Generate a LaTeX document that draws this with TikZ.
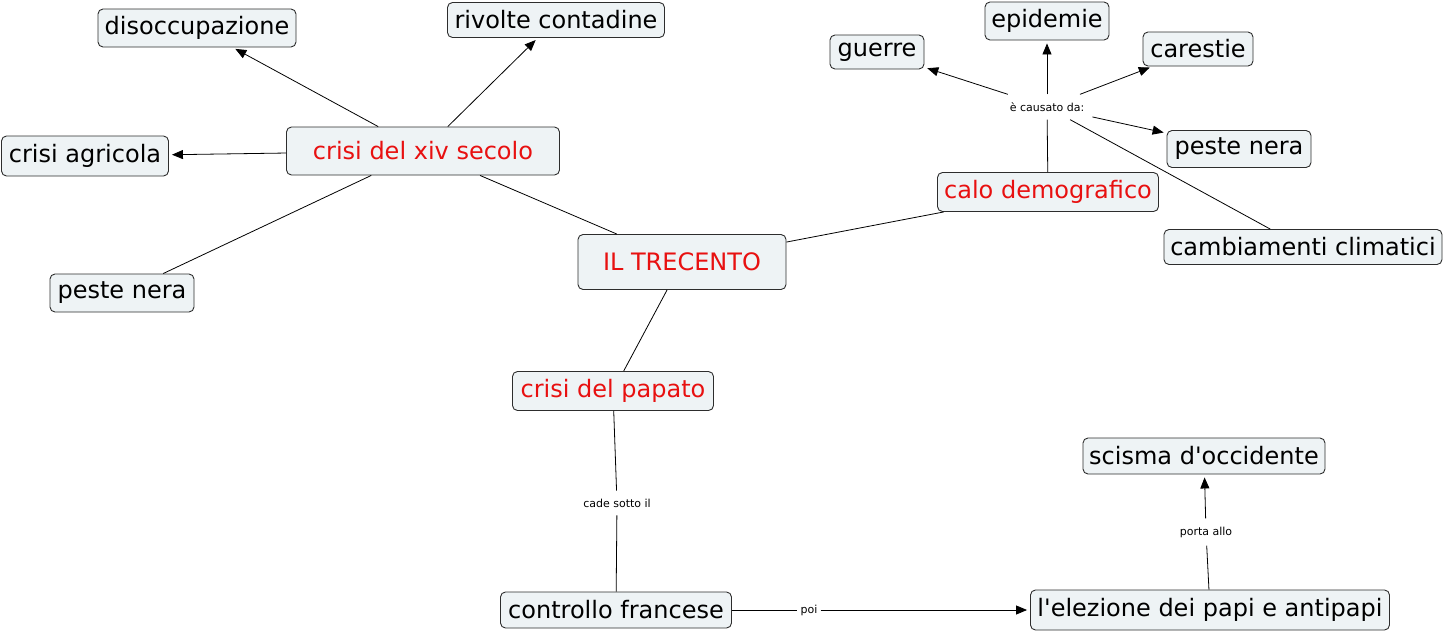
\documentclass[tikz,border=0pt]{standalone}
\usepackage{fontspec}
\setmainfont{DejaVu Sans}
\usetikzlibrary{arrows.meta}
\definecolor{cmapfill}{RGB}{238,243,245}
\definecolor{cmapred}{RGB}{232,16,16}
\definecolor{cmapline}{RGB}{45,45,45}

\begin{document}
\begin{tikzpicture}[x=1pt, y=-1pt,
  every node/.style={font=\fontsize{24}{27}\selectfont},
  concept/.style={draw=cmapline, line width=0.9pt, rounded corners=5pt, fill=cmapfill, minimum height=37pt, inner xsep=4pt, inner ysep=2pt},
  main/.style={concept, text=cmapred},
  link/.style={font=\fontsize{11}{13}\selectfont, inner sep=8pt},
  conn/.style={draw=black, line width=0.8pt},
  arr/.style={conn, -{Triangle[length=11pt,width=9pt]}, shorten >=3pt}]
\useasboundingbox (0,0) rectangle (1444,632);

% left cluster
\node[main, minimum width=273pt, minimum height=48pt] (xiv) at (423,151) {crisi del xiv secolo};
\node[concept, minimum width=198pt, minimum height=38pt] (disocc) at (197,28) {disoccupazione};
\node[concept, minimum width=217pt, minimum height=35pt] (rivolte) at (556,20) {rivolte contadine};
\node[concept, minimum width=167pt, minimum height=40pt] (agricola) at (85,156) {crisi agricola};
\node[concept, minimum width=144pt, minimum height=38pt] (pesteA) at (122,293) {peste nera};

% centre
\node[main, minimum width=208pt, minimum height=55pt] (trecento) at (682,262) {IL TRECENTO};
\node[main, minimum width=201pt, minimum height=39pt] (papato) at (613,391) {crisi del papato};
\node[concept, minimum width=231pt, minimum height=36pt] (francese) at (616,610) {controllo francese};
\node[concept, minimum width=359pt, minimum height=40pt] (elezione) at (1210,610) {l\textquotesingle elezione dei papi e antipapi};
\node[concept, minimum width=242pt, minimum height=36pt] (scisma) at (1204,456) {scisma d\textquotesingle occidente};

% right cluster
\node[main, minimum width=221pt, minimum height=39pt] (calo) at (1048,192) {calo demografico};
\node[concept, minimum width=278pt, minimum height=35pt] (clima) at (1303,247) {cambiamenti climatici};
\node[concept, minimum width=144pt, minimum height=37pt] (pesteB) at (1239,149) {peste nera};
\node[concept, minimum width=110pt, minimum height=34pt] (carestie) at (1198,49) {carestie};
\node[concept, minimum width=124pt, minimum height=38pt] (epidemie) at (1047,21) {epidemie};
\node[concept, minimum width=94pt, minimum height=34pt] (guerre) at (877,52) {guerre};

% linking phrases
\node[link] (causato) at (1047,107) {è causato da:};
\node[link] (cade) at (617,503) {cade sotto il};
\node[link] (porta) at (1206,532) {porta allo};
\node[link, inner sep=3pt] (poi) at (809,610) {poi};

\draw[arr] (xiv) -- (disocc);
\draw[arr] (xiv) -- (rivolte);
\draw[arr] (xiv) -- (agricola);
\draw[conn] (xiv) -- (pesteA);
\draw[conn] (xiv) -- (trecento);
\draw[conn] (trecento) -- (papato);
\draw[conn] (trecento) -- (calo);

\draw[conn] (calo) -- (causato);
\draw[arr] (causato) -- (guerre);
\draw[arr] (causato) -- (epidemie);
\draw[arr] (causato) -- (carestie);
\draw[arr] (causato) -- (pesteB);
\draw[conn] (causato) -- (clima);

\draw[conn] (papato) -- (cade);
\draw[conn] (cade) -- (francese);
\draw[conn] (francese) -- (poi);
\draw[arr] (poi) -- (elezione);
\draw[conn] (elezione) -- (porta);
\draw[arr] (porta) -- (scisma);
\end{tikzpicture}
\end{document}
